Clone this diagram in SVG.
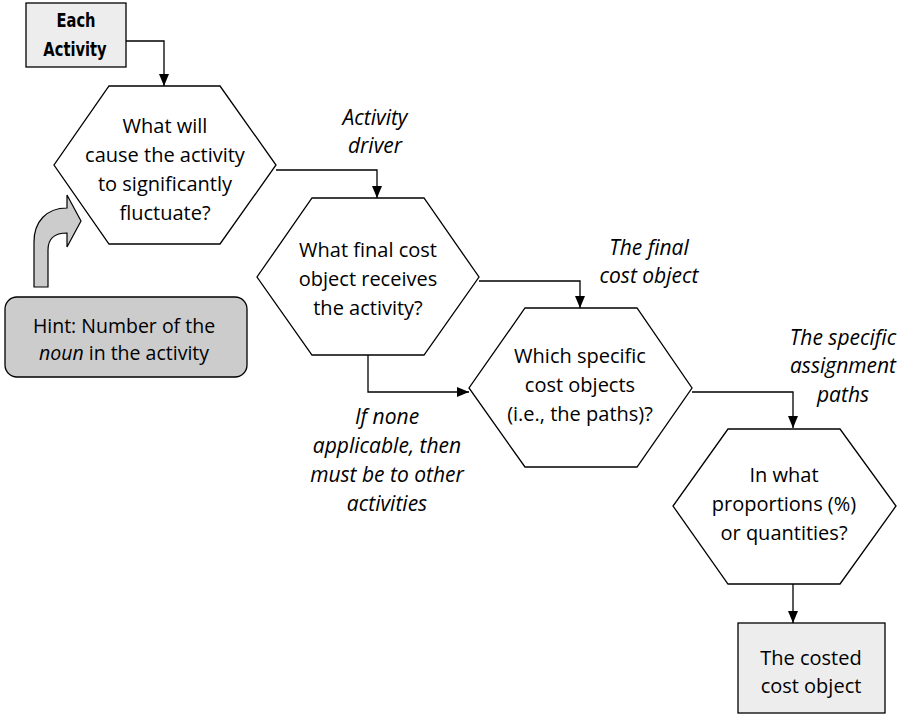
<svg xmlns="http://www.w3.org/2000/svg" width="908" height="717" viewBox="0 0 908 717">
<style>
.hex{fill:#fff;stroke:#000;stroke-width:1.3}
.box{fill:#ededed;stroke:#000;stroke-width:1.3}
.t{font-family:"Open Sans","Noto Sans",sans-serif;font-size:20px;fill:#000;text-anchor:middle}
.h{font-family:"Open Sans","Noto Sans",sans-serif;font-size:19.5px;fill:#000;text-anchor:middle}
.lbl{font-family:"Open Sans","Noto Sans",sans-serif;font-size:21px;font-style:italic;fill:#000;text-anchor:middle}
.b{font-family:"DejaVu Sans Condensed","DejaVu Sans",sans-serif;font-weight:bold;font-stretch:condensed;font-size:19px;fill:#000;text-anchor:middle}
.c{fill:none;stroke:#000;stroke-width:1.3}
</style>
<defs>
<marker id="ah" viewBox="0 0 12 10" refX="12" refY="5" markerWidth="12" markerHeight="10" markerUnits="userSpaceOnUse" orient="auto">
<path d="M0,0 L12,5 L0,10 z" fill="#000"/>
</marker>
</defs>
<g id="connectors">
<path class="c" d="M126,41 H164 V86" marker-end="url(#ah)"/>
<path class="c" d="M276,170 H377 V198" marker-end="url(#ah)"/>
<path class="c" d="M479,281 H580 V308" marker-end="url(#ah)"/>
<path class="c" d="M368,355 V392 H469" marker-end="url(#ah)"/>
<path class="c" d="M692,392 H793 V428" marker-end="url(#ah)"/>
<path class="c" d="M793,584 V623" marker-end="url(#ah)"/>
</g>
<g id="each-activity">
<rect class="box" x="26" y="3" width="100" height="64"/>
<text class="b" transform="translate(76,27) scale(0.86,1)">Each</text>
<text class="b" transform="translate(75,56) scale(0.86,1)">Activity</text>
</g>
<g id="q1">
<polygon class="hex" points="109,86 220,86 276,165 220,244 109,244 54,165"/>
<text class="t" x="165" y="133">What will</text>
<text class="t" x="165" y="162">cause the activity</text>
<text class="t" x="165" y="191">to significantly</text>
<text class="t" x="165" y="220">fluctuate?</text>
</g>
<g id="q2">
<polygon class="hex" points="312,198 424,198 479,277 424,355 312,355 257,277"/>
<text class="t" x="368" y="257">What final cost</text>
<text class="t" x="368" y="286">object receives</text>
<text class="t" x="368" y="315">the activity?</text>
</g>
<g id="q3">
<polygon class="hex" points="525,308 637,308 692,388 637,467 525,467 469,388"/>
<text class="t" x="580" y="363">Which specific</text>
<text class="t" x="580" y="392">cost objects</text>
<text class="t" x="580" y="421">(i.e., the paths)?</text>
</g>
<g id="q4">
<polygon class="hex" points="728,429 840,429 896,506 840,584 728,584 673,506"/>
<text class="t" x="784" y="482">In what</text>
<text class="t" x="784" y="511">proportions (%)</text>
<text class="t" x="784" y="540">or quantities?</text>
</g>
<g id="result">
<rect class="box" x="738" y="623" width="147" height="90"/>
<text class="t" x="811" y="665">The costed</text>
<text class="t" x="811" y="693">cost object</text>
</g>
<g id="hint">
<rect x="5" y="297" width="242" height="80" rx="12" fill="#cccccc" stroke="#000" stroke-width="1.3"/>
<text class="h" x="124" y="333">Hint: Number of the</text>
<text class="h" x="124" y="360"><tspan font-style="italic">noun</tspan> in the activity</text>
</g>
<g id="hint-arrow">
<path d="M34,287 L34,242 C34,222 46,208 67,208 L67,195 L81,221 L67,247 L67,233 C55,233 48,238 48,250 L48,287 Z" fill="#cccccc" stroke="#000" stroke-width="1.2" stroke-linejoin="miter"/>
</g>
<g id="labels">
<text class="lbl" x="375" y="125">Activity</text>
<text class="lbl" x="375" y="153">driver</text>
<text class="lbl" x="649" y="255">The final</text>
<text class="lbl" x="649" y="283">cost object</text>
<text class="lbl" x="843" y="345">The specific</text>
<text class="lbl" x="843" y="373">assignment</text>
<text class="lbl" x="843" y="402">paths</text>
<text class="lbl" x="387" y="424">If none</text>
<text class="lbl" x="387" y="453">applicable, then</text>
<text class="lbl" x="387" y="482">must be to other</text>
<text class="lbl" x="387" y="511">activities</text>
</g>
</svg>
